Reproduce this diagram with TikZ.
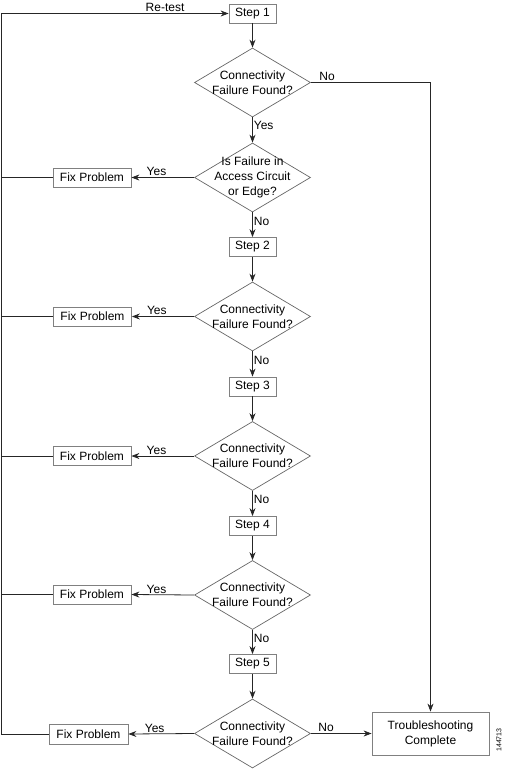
\documentclass[tikz,border=0pt]{standalone}
\usepackage{fontspec}
\setmainfont{Liberation Sans}
\usetikzlibrary{shapes.geometric,arrows.meta}

\begin{document}
\begin{tikzpicture}[x=1pt, y=-1pt, font=\fontsize{12}{15}\selectfont,
  >={Stealth[length=8pt,width=6pt]},
  stepbox/.style={draw=black!50, line width=0.8pt, minimum width=47pt, minimum height=19pt, inner sep=0pt},
  fixbox/.style={draw=black!50, line width=0.8pt, minimum width=78pt, minimum height=19pt, inner sep=0pt},
  decision/.style={diamond, draw=black!60, line width=0.7pt, minimum width=116pt, minimum height=69pt, inner sep=0pt},
  conn/.style={draw=black!85, line width=0.8pt},
  lbl/.style={inner sep=1pt}]
\useasboundingbox (0,0) rectangle (505,769);
% boxes and decisions
\node[stepbox] (s1) at (252.5,13.5) {Step 1};
\node[decision, label={[align=center]center:Connectivity\\Failure Found?}] (d1) at (252.5,82.5) {};
\node[decision, label={[align=center]center:Is Failure in\\Access Circuit\\or Edge?}] (d2) at (252.5,177.5) {};
\node[fixbox] (f2) at (92,177.5) {Fix Problem};
\node[stepbox] (s2) at (252.5,247) {Step 2};
\node[decision, label={[align=center]center:Connectivity\\Failure Found?}] (d3) at (252.5,316.5) {};
\node[fixbox] (f3) at (92.5,316.5) {Fix Problem};
\node[stepbox] (s3) at (252.5,386.5) {Step 3};
\node[decision, label={[align=center]center:Connectivity\\Failure Found?}] (d4) at (252.5,456) {};
\node[fixbox] (f4) at (92,456) {Fix Problem};
\node[stepbox] (s4) at (252.5,526) {Step 4};
\node[decision, label={[align=center]center:Connectivity\\Failure Found?}] (d5) at (252.5,595) {};
\node[fixbox] (f5) at (92,594.5) {Fix Problem};
\node[stepbox] (s5) at (252.5,664) {Step 5};
\node[decision, label={[align=center]center:Connectivity\\Failure Found?}] (d6) at (252.5,733.5) {};
\node[fixbox, minimum width=79pt, minimum height=20pt] (f6) at (88.5,734) {Fix Problem};
\node[draw=black!50, line width=0.8pt, minimum width=117pt, minimum height=43pt, align=center] (done) at (430.5,733.5) {Troubleshooting\\Complete};
\node[rotate=90, font=\fontsize{7}{8}\selectfont] (fig) at (499,740) {144713};
\coordinate (rail) at (1.5,13.5);

% main flow
\draw[conn,->] (s1) -- (d1);
\draw[conn,->] (d1) -- node[lbl, anchor=west, pos=0.3] {Yes} (d2);
\draw[conn,->] (d1.east) -| node[lbl, anchor=south west, pos=0.03] {No} (done.north);
\draw[conn,->] (d2) -- node[lbl, anchor=west, pos=0.35] {No} (s2);
\draw[conn,->] (s2) -- (d3);
\draw[conn,->] (d3) -- node[lbl, anchor=west, pos=0.35] {No} (s3);
\draw[conn,->] (s3) -- (d4);
\draw[conn,->] (d4) -- node[lbl, anchor=west, pos=0.35] {No} (s4);
\draw[conn,->] (s4) -- (d5);
\draw[conn,->] (d5) -- node[lbl, anchor=west, pos=0.35] {No} (s5);
\draw[conn,->] (s5) -- (d6);
\draw[conn,->] (d6.east) -- node[lbl, anchor=south, pos=0.25] {No} (done.west);

% yes branches
\draw[conn,->] (d2.west) -- node[lbl, anchor=south, pos=0.6] {Yes} (f2.east);
\draw[conn,->] (d3.west) -- node[lbl, anchor=south, pos=0.6] {Yes} (f3.east);
\draw[conn,->] (d4.west) -- node[lbl, anchor=south, pos=0.6] {Yes} (f4.east);
\draw[conn,->] (d5.west) -- node[lbl, anchor=south, pos=0.6] {Yes} (f5.east);
\draw[conn,->] (d6.west) -- node[lbl, anchor=south, pos=0.6] {Yes} (f6.east);

% back to step 1
\draw[conn] (f2.west) -- (f2.west -| rail);
\draw[conn] (f3.west) -- (f3.west -| rail);
\draw[conn] (f4.west) -- (f4.west -| rail);
\draw[conn] (f5.west) -- (f5.west -| rail);
\draw[conn,->] (f6.west) -- (f6.west -| rail) -- (rail) -- node[lbl, anchor=south, pos=0.72] {Re-test} (s1.west);
\end{tikzpicture}
\end{document}
